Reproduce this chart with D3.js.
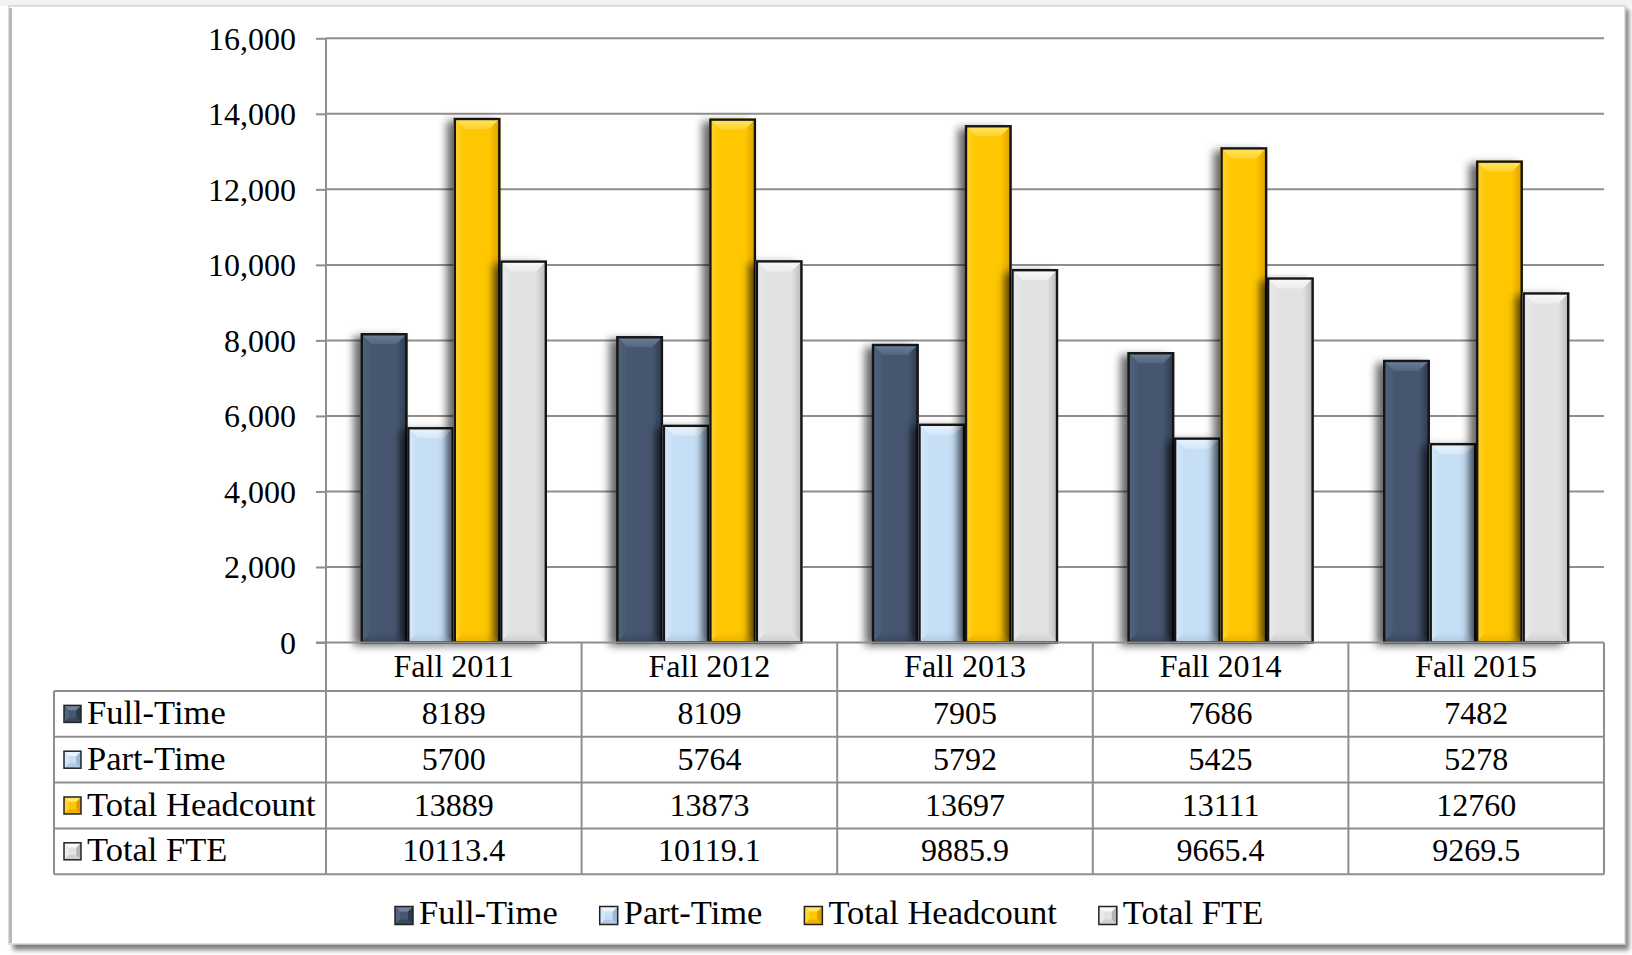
<!DOCTYPE html>
<html>
<head>
<meta charset="utf-8">
<script src="https://cdn.jsdelivr.net/npm/d3@7/dist/d3.min.js"></script>
<style>
  html, body { margin: 0; padding: 0; background: #ffffff; }
  svg { display: block; }
  text { font-family: "Liberation Serif", "Times New Roman", serif; fill: #000; }
</style>
</head>
<body>
<svg id="chart" width="1632" height="955"></svg>
<script>
// ---------- data ----------
const categories = ["Fall 2011", "Fall 2012", "Fall 2013", "Fall 2014", "Fall 2015"];
const seriesNames = ["Full-Time", "Part-Time", "Total Headcount", "Total FTE"];
const fullTime = [8189, 8109, 7905, 7686, 7482];
const partTime = [5700, 5764, 5792, 5425, 5278];
const totalHeadcount = [13889, 13873, 13697, 13111, 12760];
const totalFTE = [10113.4, 10119.1, 9885.9, 9665.4, 9269.5];
const yTicks = [0, 2000, 4000, 6000, 8000, 10000, 12000, 14000, 16000];

const seriesValues = [fullTime, partTime, totalHeadcount, totalFTE];

// ---------- styles ----------
const palette = [
  { main: "#465770", top: "#71829C", left: "#53647E", right: "#2C394C", bottom: "#3A485E" },
  { main: "#C6DFF5", top: "#EAF4FE", left: "#D5E8F9", right: "#9DB8D2", bottom: "#B2CCE5" },
  { main: "#FFC700", top: "#FFE865", left: "#FFD330", right: "#D99E00", bottom: "#EDB200" },
  { main: "#E2E2E2", top: "#FAFAFA", left: "#ECECEC", right: "#B5B5B5", bottom: "#CFCFCF" }
];
const gridColor = "#8E8E8E";

const svg = d3.select("#chart");
const defs = svg.append("defs");

defs.append("filter").attr("id", "frameBlur").attr("x", "-5%").attr("y", "-5%").attr("width", "110%").attr("height", "110%")
  .append("feGaussianBlur").attr("stdDeviation", 2.5);

const bs = defs.append("filter").attr("id", "barShadow")
  .attr("x", "-80%").attr("y", "-10%").attr("width", "200%").attr("height", "120%");
bs.append("feDropShadow").attr("dx", -7).attr("dy", 3).attr("stdDeviation", 4.5)
  .attr("flood-color", "#000").attr("flood-opacity", 0.6);

palette.forEach((p, i) => {
  const gl = defs.append("linearGradient").attr("id", "gl" + i).attr("x1", 0).attr("x2", 1).attr("y1", 0).attr("y2", 0);
  gl.append("stop").attr("offset", "0%").attr("stop-color", p.left);
  gl.append("stop").attr("offset", "100%").attr("stop-color", p.main);
  const gr = defs.append("linearGradient").attr("id", "gr" + i).attr("x1", 0).attr("x2", 1).attr("y1", 0).attr("y2", 0);
  gr.append("stop").attr("offset", "0%").attr("stop-color", p.main);
  gr.append("stop").attr("offset", "100%").attr("stop-color", p.right);
  const gt = defs.append("linearGradient").attr("id", "gt" + i).attr("x1", 0).attr("x2", 0).attr("y1", 0).attr("y2", 1);
  gt.append("stop").attr("offset", "0%").attr("stop-color", p.top);
  gt.append("stop").attr("offset", "100%").attr("stop-color", p.left);
  const gb = defs.append("linearGradient").attr("id", "gb" + i).attr("x1", 0).attr("x2", 0).attr("y1", 0).attr("y2", 1);
  gb.append("stop").attr("offset", "0%").attr("stop-color", p.main);
  gb.append("stop").attr("offset", "100%").attr("stop-color", p.bottom);
});

// ---------- frame ----------
svg.append("rect").attr("x", 0).attr("y", 0).attr("width", 1632).attr("height", 955).attr("fill", "#ffffff");
svg.append("rect").attr("x", 0).attr("y", 0).attr("width", 1632).attr("height", 6).attr("fill", "#f3f3f3");
svg.append("rect").attr("x", 13).attr("y", 9).attr("width", 1616).attr("height", 941)
  .attr("fill", "#7c7c7c").attr("filter", "url(#frameBlur)");
svg.append("rect").attr("x", 9).attr("y", 6).attr("width", 1616).attr("height", 938)
  .attr("fill", "#ffffff").attr("stroke", "#d4d4d4").attr("stroke-width", 1.5);
svg.append("line").attr("x1", 10.5).attr("x2", 10.5).attr("y1", 8).attr("y2", 943)
  .attr("stroke", "#b9b9b9").attr("stroke-width", 3);

// ---------- scales ----------
const plotLeft = 326, plotRight = 1604;
const x0 = d3.scaleBand().domain(categories).range([plotLeft, plotRight])
  .paddingInner(0.2723).paddingOuter(0.13615);
const x1 = d3.scaleBand().domain(seriesNames).range([0, x0.bandwidth()]);
const y = d3.scaleLinear().domain([0, 16000]).range([642.5, 38.3]);

// ---------- gridlines ----------
svg.append("g").selectAll("line").data(yTicks.filter(t => t > 0)).join("line")
  .attr("x1", plotLeft).attr("x2", plotRight)
  .attr("y1", d => y(d)).attr("y2", d => y(d))
  .attr("stroke", gridColor).attr("stroke-width", 2);

// ---------- y axis ----------
const yAxis = svg.append("g").attr("transform", `translate(${plotLeft},0)`)
  .call(d3.axisLeft(y).tickValues(yTicks).tickSize(10).tickPadding(20).tickFormat(d3.format(",")));
yAxis.select(".domain").remove();
yAxis.selectAll(".tick line").attr("stroke", gridColor).attr("stroke-width", 2);
yAxis.selectAll(".tick text").attr("font-size", 32).attr("font-family", "Liberation Serif")
  .attr("fill", "#000").attr("dy", "0.34em");

// ---------- bars ----------
const bevel = 11;
const barsG = svg.append("g");
seriesNames.forEach((s, si) => {
  seriesValues[si].forEach((v, ci) => {
    const bx0 = x0(categories[ci]) + x1(s);
    const bx1 = bx0 + x1.bandwidth();
    const by0 = y(v);
    const by1 = y(0);
    const d = Math.min(bevel, (by1 - by0) / 2);
    const g = barsG.append("g");
    g.append("rect").attr("x", bx0).attr("y", by0).attr("width", bx1 - bx0).attr("height", by1 - by0)
      .attr("fill", palette[si].main).attr("filter", "url(#barShadow)");
    const poly = (pts, fill) => g.append("polygon").attr("points", pts.map(p => p.join(",")).join(" ")).attr("fill", fill);
    poly([[bx0, by0], [bx0 + d, by0 + d], [bx0 + d, by1 - d], [bx0, by1]], `url(#gl${si})`);
    poly([[bx1, by0], [bx1 - d, by0 + d], [bx1 - d, by1 - d], [bx1, by1]], `url(#gr${si})`);
    poly([[bx0, by1], [bx0 + d, by1 - d], [bx1 - d, by1 - d], [bx1, by1]], `url(#gb${si})`);
    poly([[bx0, by0], [bx1, by0], [bx1 - d, by0 + d], [bx0 + d, by0 + d]], `url(#gt${si})`);
    g.append("rect").attr("x", bx0 + 1).attr("y", by0 + 1).attr("width", bx1 - bx0 - 2).attr("height", by1 - by0 - 1)
      .attr("fill", "none").attr("stroke", "#151515").attr("stroke-width", 2.4);
  });
});

// ---------- data table ----------
const tableLeft = 54;
const headerTop = 642.5, headerBottom = 691;
const rowH = 45.8;
const rowTops = seriesNames.map((s, i) => headerBottom + i * rowH);
const tableBottom = headerBottom + seriesNames.length * rowH;
const tg = svg.append("g");

tg.append("line").attr("x1", 316).attr("x2", plotRight).attr("y1", headerTop).attr("y2", headerTop)
  .attr("stroke", gridColor).attr("stroke-width", 2);
[headerBottom, ...rowTops.slice(1), tableBottom].forEach(yy => {
  tg.append("line").attr("x1", tableLeft).attr("x2", plotRight).attr("y1", yy).attr("y2", yy)
    .attr("stroke", gridColor).attr("stroke-width", 2);
});
tg.append("line").attr("x1", tableLeft).attr("x2", tableLeft).attr("y1", headerBottom).attr("y2", tableBottom)
  .attr("stroke", gridColor).attr("stroke-width", 2);
tg.append("line").attr("x1", plotLeft).attr("x2", plotLeft).attr("y1", y(16000)).attr("y2", tableBottom)
  .attr("stroke", gridColor).attr("stroke-width", 2);
categories.forEach((c, i) => {
  const xx = x0.step() * (i + 1) + plotLeft;
  tg.append("line").attr("x1", xx).attr("x2", xx).attr("y1", headerTop).attr("y2", tableBottom)
    .attr("stroke", gridColor).attr("stroke-width", 2);
});

tg.selectAll("text.cat").data(categories).join("text").attr("class", "cat")
  .attr("x", d => x0(d) + x0.bandwidth() / 2).attr("y", (headerTop + headerBottom) / 2 + 10.5)
  .attr("text-anchor", "middle").attr("font-size", 32).text(d => d);

function marker(g, xx, yy, size, si) {
  const p = palette[si];
  const d = size * 0.28;
  g.append("rect").attr("x", xx).attr("y", yy).attr("width", size).attr("height", size).attr("fill", p.main);
  const poly = (pts, fill) => g.append("polygon").attr("points", pts.map(q => q.join(",")).join(" ")).attr("fill", fill);
  const x1p = xx + size, y1p = yy + size;
  poly([[xx, yy], [xx + d, yy + d], [xx + d, y1p - d], [xx, y1p]], p.left);
  poly([[x1p, yy], [x1p - d, yy + d], [x1p - d, y1p - d], [x1p, y1p]], p.right);
  poly([[xx, y1p], [xx + d, y1p - d], [x1p - d, y1p - d], [x1p, y1p]], p.bottom);
  poly([[xx, yy], [x1p, yy], [x1p - d, yy + d], [xx + d, yy + d]], p.top);
  g.append("rect").attr("x", xx).attr("y", yy).attr("width", size).attr("height", size)
    .attr("fill", "none").attr("stroke", "#222").attr("stroke-width", 1.5);
}

seriesNames.forEach((s, si) => {
  const cy = rowTops[si] + rowH / 2;
  marker(tg, 64, cy - 8.5, 17, si);
  tg.append("text").attr("x", 87).attr("y", cy + 10).attr("font-size", 34.5).text(s);
  seriesValues[si].forEach((v, ci) => {
    tg.append("text").attr("x", x0(categories[ci]) + x0.bandwidth() / 2).attr("y", cy + 10)
      .attr("text-anchor", "middle").attr("font-size", 32).text(String(v));
  });
});

// ---------- legend ----------
const lg = svg.append("g");
let lx = 395;
const legendBase = 924;
seriesNames.forEach((s, si) => {
  marker(lg, lx, legendBase - 17.5, 18, si);
  const t = lg.append("text").attr("x", lx + 24).attr("y", legendBase).attr("font-size", 34.5).text(s);
  const w = t.node().getComputedTextLength();
  lx = lx + 24 + w + 42;
});
</script>
</body>
</html>
